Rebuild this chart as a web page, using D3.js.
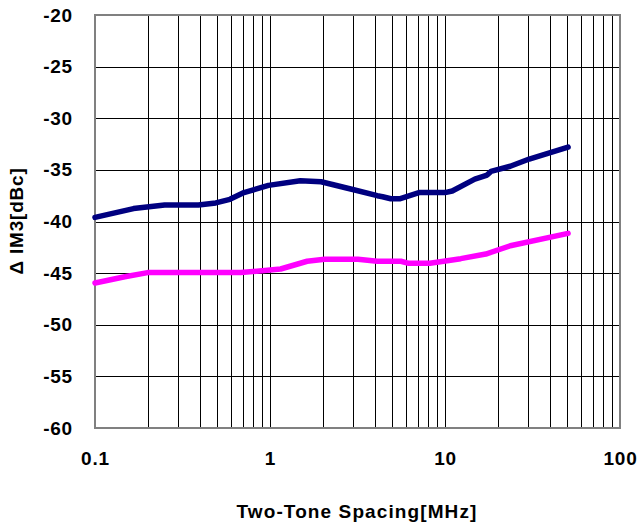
<!DOCTYPE html>
<html>
<head>
<meta charset="utf-8">
<script src="https://cdn.jsdelivr.net/npm/d3@7"></script>
<style>
  body { margin: 0; background: #fff; }
  text { font-family: "Liberation Sans", Arial, sans-serif; font-weight: bold; fill: #000; }
</style>
</head>
<body>
<script>
// two-tone spacing in MHz vs delta IM3 in dBc
var navyFreq = [0.1, 0.166, 0.25, 0.39, 0.49, 0.59, 0.71, 0.98, 1.49, 1.96, 2.97, 4.1, 4.4, 4.9, 5.5, 7.1, 10, 11, 14.8, 17.4, 18.3, 23.6, 30.3, 50.5];
var navyVal  = [-39.6, -38.75, -38.4, -38.4, -38.2, -37.85, -37.2, -36.5, -36.05, -36.15, -36.9, -37.5, -37.6, -37.8, -37.8, -37.2, -37.2, -37.05, -35.9, -35.5, -35.15, -34.65, -33.95, -32.8];

var pinkFreq = [0.1, 0.148, 0.2, 0.68, 1.15, 1.63, 2.05, 3.18, 4.1, 5.6, 6.2, 8.2, 12.3, 17.1, 23.6, 50.5];
var pinkVal  = [-45.95, -45.35, -44.95, -44.95, -44.6, -43.85, -43.65, -43.65, -43.85, -43.85, -44.05, -44.05, -43.6, -43.15, -42.35, -41.15];

var xTicks = [0.1, 1, 10, 100];
var yTicks = [-60, -55, -50, -45, -40, -35, -30, -25, -20];

var w = 640, h = 525;
var plotL = 95, plotR = 620, plotT = 15, plotB = 428;

var svg = d3.select("body").append("svg")
    .attr("width", w)
    .attr("height", h);

var x = d3.scaleLog().domain([0.1, 100]).range([plotL, plotR]);
var y = d3.scaleLinear().domain([-60, -20]).range([plotB, plotT]);

// minor log grid (2..9 each decade)
var minor = [];
[0.1, 1, 10].forEach(function(d) {
    for (var k = 2; k <= 9; k++) minor.push(d * k);
});

svg.selectAll("line.vgrid")
    .data(minor.concat([1, 10]))
    .enter().append("line")
    .attr("x1", function(d) { return Math.round(x(d)) + 0.5; })
    .attr("x2", function(d) { return Math.round(x(d)) + 0.5; })
    .attr("y1", plotT).attr("y2", plotB)
    .attr("stroke", "#000").attr("stroke-width", 1);

svg.selectAll("line.hgrid")
    .data(yTicks.slice(1, -1))
    .enter().append("line")
    .attr("x1", plotL).attr("x2", plotR)
    .attr("y1", function(d) { return Math.round(y(d)) + 0.5; })
    .attr("y2", function(d) { return Math.round(y(d)) + 0.5; })
    .attr("stroke", "#000").attr("stroke-width", 1);

// frame
svg.append("rect")
    .attr("x", plotL).attr("y", plotT)
    .attr("width", plotR - plotL).attr("height", plotB - plotT)
    .attr("fill", "none").attr("stroke", "#808080").attr("stroke-width", 2);

// axes labels via d3 axes (plain hyphen like the original)
var yAxis = svg.append("g")
    .attr("transform", "translate(" + plotL + ",0)")
    .call(d3.axisLeft(y).tickValues(yTicks).tickFormat(function(d) { return String(d); }).tickSize(0).tickPadding(22));
yAxis.select(".domain").remove();
yAxis.selectAll("text").style("font-size", "19px").attr("font-family", null).attr("letter-spacing", "0.8px");

var xAxis = svg.append("g")
    .attr("transform", "translate(0," + plotB + ")")
    .call(d3.axisBottom(x).tickValues(xTicks).tickFormat(function(d) { return String(d); }).tickSize(0).tickPadding(24));
xAxis.select(".domain").remove();
xAxis.selectAll("text").style("font-size", "19px").attr("font-family", null).attr("letter-spacing", "0.8px");

// series
var line = d3.line()
    .x(function(d) { return x(d[0]); })
    .y(function(d) { return y(d[1]); });

svg.append("path")
    .datum(d3.zip(navyFreq, navyVal))
    .attr("d", line)
    .attr("fill", "none")
    .attr("stroke", "#000080")
    .attr("stroke-width", 5.5)
    .attr("stroke-linejoin", "round")
    .attr("stroke-linecap", "round");

svg.append("path")
    .datum(d3.zip(pinkFreq, pinkVal))
    .attr("d", line)
    .attr("fill", "none")
    .attr("stroke", "#ff00ff")
    .attr("stroke-width", 5.5)
    .attr("stroke-linejoin", "round")
    .attr("stroke-linecap", "round");

// titles
svg.append("text")
    .attr("x", 357).attr("y", 518)
    .attr("text-anchor", "middle")
    .style("font-size", "19px")
    .attr("letter-spacing", "1.1px")
    .text("Two-Tone Spacing[MHz]");

svg.append("text")
    .attr("transform", "translate(23,221) rotate(-90)")
    .attr("text-anchor", "middle")
    .style("font-size", "19px")
    .attr("letter-spacing", "0.8px")
    .text("Δ IM3[dBc]");
</script>
</body>
</html>
